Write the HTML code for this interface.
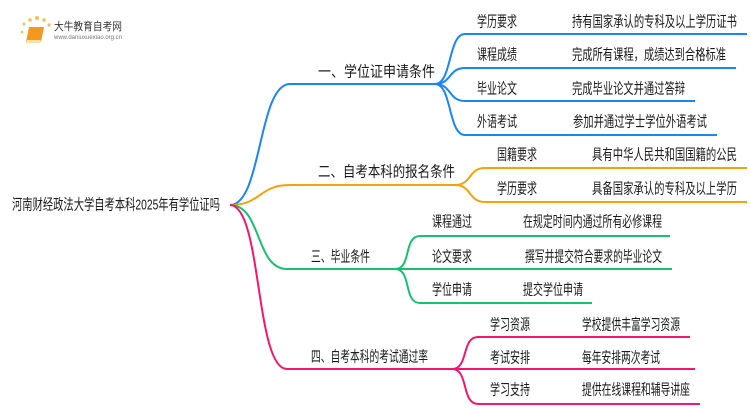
<!DOCTYPE html>
<html><head><meta charset="utf-8"><style>
html,body{margin:0;padding:0;background:#fff;width:750px;height:410px;overflow:hidden}
text{font-family:"Liberation Sans","Noto Sans CJK SC",sans-serif;font-size:15px;fill:#1a1a1a;dominant-baseline:central}
</style></head><body>
<svg width="750" height="410" viewBox="0 0 750 410" xmlns="http://www.w3.org/2000/svg">
<g>
<circle cx="24" cy="24" r="1.5" fill="#f7c04a"/><circle cx="30" cy="20" r="1.8" fill="#f7c04a"/><circle cx="37" cy="18" r="2" fill="#f7c04a"/><circle cx="44" cy="20" r="1.8" fill="#f7c04a"/><circle cx="49" cy="25" r="1.6" fill="#f7c04a"/><circle cx="22" cy="32" r="1.3" fill="#f7c04a"/>
<path d="M29 27 L44 27 L41 42 L26 42 Z" fill="#f39a1e"/>
<path d="M27 40 L41 40 L40 43 L26 43 Z" fill="#fde0a6"/>
<text x="54" y="27" style="font-size:11px;fill:#333" textLength="68" lengthAdjust="spacingAndGlyphs">大牛教育自考网</text>
<text x="54" y="38" style="font-size:6px;fill:#777" textLength="68" lengthAdjust="spacingAndGlyphs">www.daniuxuexiao.org.cn</text>
</g>
<g fill="none" stroke-width="2">
<g stroke="#1a86f5">
<path d="M230 205 C262 205 258 84 290 84 L435 84"/>
<path d="M435 84 C452 84 448 34 465 34 L747 34"/>
<path d="M435 84 C452 84 448 68 465 68 L736 68"/>
<path d="M435 84 C452 84 448 101 465 101 L695 101"/>
<path d="M435 84 C452 84 448 135 465 135 L717 135"/>
</g>
<g stroke="#f5a20a">
<path d="M230 205 C262 205 258 185 290 185 L455 185"/>
<path d="M455 185 C472 185 468 168 485 168 L747 168"/>
<path d="M455 185 C472 185 468 202 485 202 L747 202"/>
</g>
<g stroke="#18c070">
<path d="M230 205 C262 205 255 269 287 269 L395 269"/>
<path d="M395 269 C412 269 403 236 420 236 L670 236"/>
<path d="M395 269 L672 269"/>
<path d="M395 269 C412 269 403 303 420 303 L592 303"/>
</g>
<g stroke="#f5156e">
<path d="M230 205 C262 205 255 369 287 369 L452 369"/>
<path d="M452 369 C469 369 461 337 478 337 L690 337"/>
<path d="M452 369 L695 369"/>
<path d="M452 369 C469 369 461 404 478 404 L700 404"/>
</g>
</g>
<text x="12" y="205" textLength="208" lengthAdjust="spacingAndGlyphs">河南财经政法大学自考本科2025年有学位证吗</text>
<text x="318" y="72" textLength="117" lengthAdjust="spacingAndGlyphs">一、学位证申请条件</text>
<text x="477" y="22" textLength="40" lengthAdjust="spacingAndGlyphs">学历要求</text>
<text x="572" y="22" textLength="165" lengthAdjust="spacingAndGlyphs">持有国家承认的专科及以上学历证书</text>
<text x="477" y="55" textLength="40" lengthAdjust="spacingAndGlyphs">课程成绩</text>
<text x="572" y="55" textLength="154" lengthAdjust="spacingAndGlyphs">完成所有课程，成绩达到合格标准</text>
<text x="477" y="89" textLength="40" lengthAdjust="spacingAndGlyphs">毕业论文</text>
<text x="572" y="89" textLength="113" lengthAdjust="spacingAndGlyphs">完成毕业论文并通过答辩</text>
<text x="477" y="122" textLength="40" lengthAdjust="spacingAndGlyphs">外语考试</text>
<text x="573" y="122" textLength="134" lengthAdjust="spacingAndGlyphs">参加并通过学士学位外语考试</text>
<text x="318" y="172" textLength="137" lengthAdjust="spacingAndGlyphs">二、自考本科的报名条件</text>
<text x="497" y="155" textLength="40" lengthAdjust="spacingAndGlyphs">国籍要求</text>
<text x="592" y="155" textLength="145" lengthAdjust="spacingAndGlyphs">具有中华人民共和国国籍的公民</text>
<text x="497" y="189" textLength="40" lengthAdjust="spacingAndGlyphs">学历要求</text>
<text x="592" y="189" textLength="145" lengthAdjust="spacingAndGlyphs">具备国家承认的专科及以上学历</text>
<text x="311" y="257" textLength="59" lengthAdjust="spacingAndGlyphs">三、毕业条件</text>
<text x="432" y="222" textLength="40" lengthAdjust="spacingAndGlyphs">课程通过</text>
<text x="523" y="222" textLength="139" lengthAdjust="spacingAndGlyphs">在规定时间内通过所有必修课程</text>
<text x="432" y="257" textLength="40" lengthAdjust="spacingAndGlyphs">论文要求</text>
<text x="525" y="257" textLength="137" lengthAdjust="spacingAndGlyphs">撰写并提交符合要求的毕业论文</text>
<text x="432" y="290" textLength="40" lengthAdjust="spacingAndGlyphs">学位申请</text>
<text x="523" y="290" textLength="60" lengthAdjust="spacingAndGlyphs">提交学位申请</text>
<text x="311" y="357" textLength="117" lengthAdjust="spacingAndGlyphs">四、自考本科的考试通过率</text>
<text x="490" y="325" textLength="40" lengthAdjust="spacingAndGlyphs">学习资源</text>
<text x="582" y="325" textLength="98" lengthAdjust="spacingAndGlyphs">学校提供丰富学习资源</text>
<text x="490" y="358" textLength="40" lengthAdjust="spacingAndGlyphs">考试安排</text>
<text x="582" y="358" textLength="78" lengthAdjust="spacingAndGlyphs">每年安排两次考试</text>
<text x="490" y="390" textLength="40" lengthAdjust="spacingAndGlyphs">学习支持</text>
<text x="582" y="390" textLength="108" lengthAdjust="spacingAndGlyphs">提供在线课程和辅导讲座</text>
</svg>
</body></html>
